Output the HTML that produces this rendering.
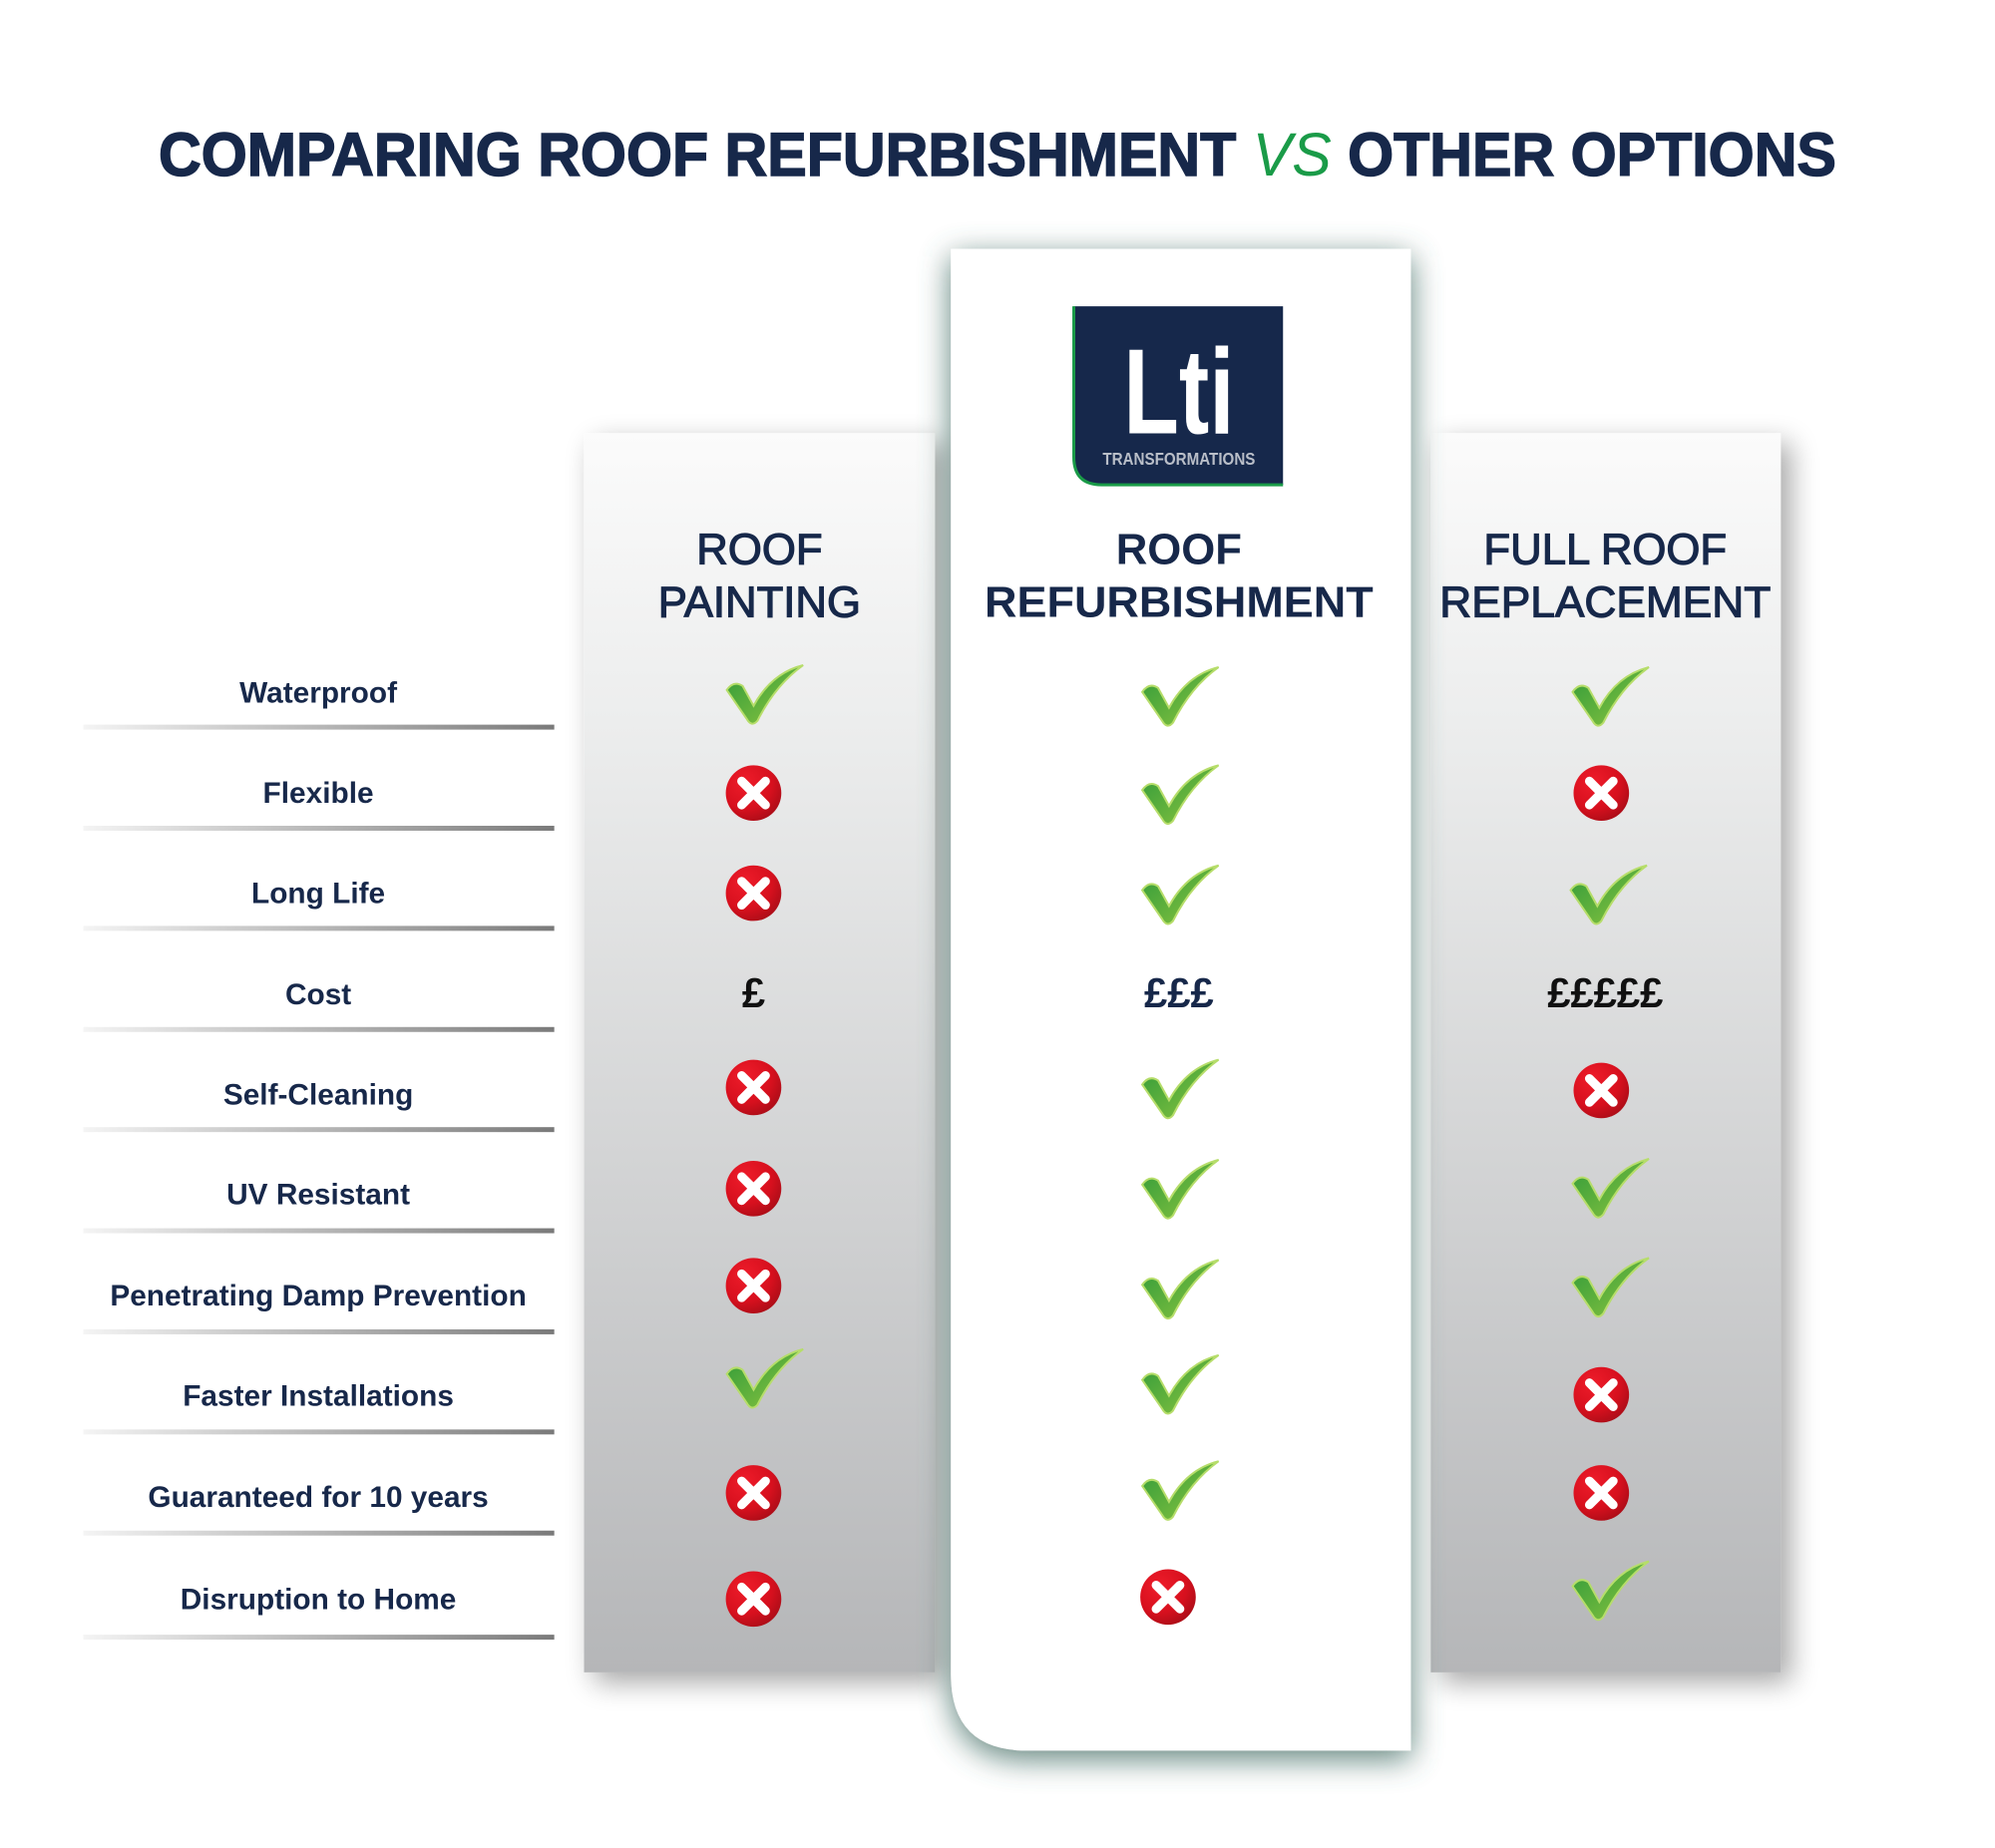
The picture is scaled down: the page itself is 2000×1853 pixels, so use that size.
<!DOCTYPE html>
<html><head><meta charset="utf-8"><style>
html,body{margin:0;padding:0;background:#fff;}
svg{display:block;}
</style></head><body>
<svg width="2000" height="1853" viewBox="0 0 2000 1853" xmlns="http://www.w3.org/2000/svg">
<defs>
<linearGradient id="side" x1="0" y1="0" x2="0" y2="1">
<stop offset="0" stop-color="#fbfbfb"/><stop offset="0.25" stop-color="#ebecec"/><stop offset="1" stop-color="#b5b6b8"/>
</linearGradient>
<linearGradient id="ln" x1="0" y1="0" x2="1" y2="0">
<stop offset="0" stop-color="#f4f4f4"/><stop offset="1" stop-color="#7a7a7a"/>
</linearGradient>
<linearGradient id="chk" x1="0" y1="0" x2="1" y2="1">
<stop offset="0" stop-color="#2f9a3a"/><stop offset="1" stop-color="#8ec63f"/>
</linearGradient>
<radialGradient id="red" cx="0.35" cy="0.3" r="0.8">
<stop offset="0" stop-color="#ee1c2a"/><stop offset="0.6" stop-color="#d7101e"/><stop offset="1" stop-color="#a50d17"/>
</radialGradient>
<filter id="sh" x="-20%" y="-10%" width="140%" height="125%">
<feGaussianBlur in="SourceAlpha" stdDeviation="14"/><feOffset dx="10" dy="10"/>
<feComponentTransfer><feFuncA type="linear" slope="0.35"/></feComponentTransfer>
<feMerge><feMergeNode/><feMergeNode in="SourceGraphic"/></feMerge>
</filter>
<filter id="shc" x="-20%" y="-10%" width="140%" height="125%">
<feOffset in="SourceAlpha" dx="0" dy="8" result="o"/>
<feFlood flood-color="#3f6a62"/><feComposite operator="in" in2="o"/>
<feGaussianBlur stdDeviation="16"/>
<feComponentTransfer><feFuncA type="linear" slope="0.85"/></feComponentTransfer>
<feMerge><feMergeNode/><feMergeNode in="SourceGraphic"/></feMerge>
</filter>
<g id="C">
<path d="M-37,-5 Q-30,-15 -21,-9 L-10,11 Q8,-22 40,-30 Q12,-10 -6,26 Q-12,33 -17,24 Z" fill="url(#chk)" stroke="#b6dd6a" stroke-width="2"/>
</g>
<g id="X">
<circle r="28" fill="url(#red)"/>
<path d="M-12,-12 L12,12 M12,-12 L-12,12" stroke="#fff" stroke-width="9" stroke-linecap="round"/>
</g>
</defs>
<g transform="translate(1,1) scale(0.994)">
<text x="1005" y="176" text-anchor="middle" font-family="Liberation Sans, sans-serif" font-weight="bold" font-size="62" fill="#17284a" stroke="#17284a" stroke-width="1.5" textLength="1692" lengthAdjust="spacingAndGlyphs">COMPARING ROOF REFURBISHMENT <tspan fill="#1a9b48" stroke="none" font-style="italic" font-weight="normal">VS</tspan> OTHER OPTIONS</text>

<rect x="588" y="436" width="354" height="1250" fill="url(#side)" filter="url(#sh)"/>
<rect x="1442" y="436" width="353" height="1250" fill="url(#side)" filter="url(#sh)"/>

<path d="M958,250 H1422 V1765 H1035 Q958,1765 958,1688 Z" fill="#fff" filter="url(#shc)"/>

<g>
<path d="M1082,308 H1293 V488 H1110 Q1082,488 1082,460 Z" fill="#16284b"/>
<path d="M1082,308 V460 Q1082,488 1110,488 H1293" fill="none" stroke="#1a9b48" stroke-width="3"/>
<text x="1188" y="436" text-anchor="middle" font-family="Liberation Sans, sans-serif" font-weight="bold" font-size="122" fill="#fff" textLength="112" lengthAdjust="spacingAndGlyphs">Lti</text>
<text x="1188" y="468" text-anchor="middle" font-family="Liberation Sans, sans-serif" font-weight="bold" font-size="18" fill="#b9bec8" textLength="154" lengthAdjust="spacingAndGlyphs">TRANSFORMATIONS</text>
</g>

<g font-family="Liberation Sans, sans-serif" font-size="44" text-anchor="middle" fill="#17284a">
<g stroke="#17284a" stroke-width="1.2">
<text x="765" y="568">ROOF</text><text x="765" y="621">PAINTING</text>
<text x="1618" y="568">FULL ROOF</text><text x="1618" y="621" textLength="334" lengthAdjust="spacingAndGlyphs">REPLACEMENT</text>
</g>
<text x="1188" y="568" font-weight="bold">ROOF</text><text x="1188" y="621" font-weight="bold" textLength="392" lengthAdjust="spacingAndGlyphs">REFURBISHMENT</text>
</g>

<g font-family="Liberation Sans, sans-serif" font-weight="bold" font-size="30" text-anchor="middle" fill="#17284a">
<text x="320" y="708">Waterproof</text>
<text x="320" y="809">Flexible</text>
<text x="320" y="910">Long Life</text>
<text x="320" y="1012">Cost</text>
<text x="320" y="1113">Self-Cleaning</text>
<text x="320" y="1214">UV Resistant</text>
<text x="320" y="1316">Penetrating Damp Prevention</text>
<text x="320" y="1417">Faster Installations</text>
<text x="320" y="1519">Guaranteed for 10 years</text>
<text x="320" y="1622">Disruption to Home</text>
</g>
<g fill="url(#ln)">
<rect x="83" y="730" width="475" height="5"/>
<rect x="83" y="832" width="475" height="5"/>
<rect x="83" y="933" width="475" height="5"/>
<rect x="83" y="1035" width="475" height="5"/>
<rect x="83" y="1136" width="475" height="5"/>
<rect x="83" y="1238" width="475" height="5"/>
<rect x="83" y="1340" width="475" height="5"/>
<rect x="83" y="1441" width="475" height="5"/>
<rect x="83" y="1543" width="475" height="5"/>
<rect x="83" y="1648" width="475" height="5"/>
</g>

<use href="#C" x="769" y="700"/>
<use href="#X" x="759" y="799"/>
<use href="#X" x="759" y="900"/>
<text x="759" y="1015" text-anchor="middle" font-family="Liberation Sans, sans-serif" font-weight="bold" font-size="42" fill="#111">£</text>
<use href="#X" x="759" y="1096"/>
<use href="#X" x="759" y="1198"/>
<use href="#X" x="759" y="1296"/>
<use href="#C" x="769" y="1390"/>
<use href="#X" x="759" y="1505"/>
<use href="#X" x="759" y="1612"/>

<use href="#C" x="1188" y="702"/>
<use href="#C" x="1188" y="801"/>
<use href="#C" x="1188" y="902"/>
<text x="1188" y="1015" text-anchor="middle" font-family="Liberation Sans, sans-serif" font-weight="bold" font-size="42" fill="#17284a">£££</text>
<use href="#C" x="1188" y="1098"/>
<use href="#C" x="1188" y="1199"/>
<use href="#C" x="1188" y="1300"/>
<use href="#C" x="1188" y="1396"/>
<use href="#C" x="1188" y="1503"/>
<use href="#X" x="1177" y="1610"/>

<use href="#C" x="1622" y="702"/>
<use href="#X" x="1614" y="799"/>
<use href="#C" x="1620" y="902"/>
<text x="1618" y="1015" text-anchor="middle" font-family="Liberation Sans, sans-serif" font-weight="bold" font-size="42" fill="#111">£££££</text>
<use href="#X" x="1614" y="1099"/>
<use href="#C" x="1622" y="1198"/>
<use href="#C" x="1622" y="1298"/>
<use href="#X" x="1614" y="1406"/>
<use href="#X" x="1614" y="1505"/>
<use href="#C" x="1622" y="1604"/>
</g>
</svg>
</body></html>
